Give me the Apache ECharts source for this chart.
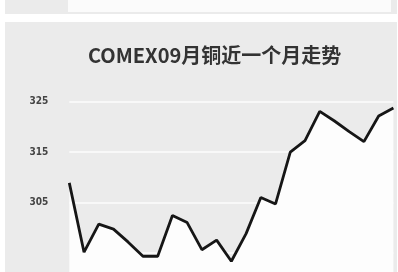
<!DOCTYPE html>
<html>
<head>
<meta charset="utf-8">
<script src="https://cdn.jsdelivr.net/npm/echarts@6/dist/echarts.min.js"></script>
<style>
html,body{margin:0;padding:0;background:#ffffff;}
#c{width:398px;height:272px;}
</style>
</head>
<body>
<div id="c"></div>
<script>
var titleText = 'COMEX09月铜近一个月走势';
var days = ['1','2','3','4','5','6','7','8','9','10','11','12','13','14','15','16','17','18','19','20','21','22','23'];
var prices = [308.9, 295.1, 300.7, 299.7, 297.1, 294.3, 294.3, 302.4, 301.0, 295.6, 297.5, 293.3, 298.8, 306.0, 304.7, 315.0, 317.3, 323.1, 321.2, 319.1, 317.1, 322.2, 323.8];
var yTicks = [305, 315, 325];

var chart = echarts.init(document.getElementById('c'), null, {renderer:'canvas'});
chart.setOption({
  backgroundColor: 'transparent',
  animation: false,
  graphic: [
    {type:'rect', z:-10, shape:{x:5, y:0, width:392, height:14}, style:{fill:'#ebebeb'}},
    {type:'rect', z:-9, shape:{x:68, y:0, width:323, height:12}, style:{fill:'#fbfbfb'}},
    {type:'rect', z:-10, shape:{x:5, y:22, width:392, height:250}, style:{fill:'#ebebeb'}}
  ],
  title: {
    text: titleText,
    left: 83,
    top: 40,
    textStyle: {fontFamily:'Noto Sans CJK SC', fontSize:20, fontWeight:'bold', color:'#333333'}
  },
  grid: {left:69.3, width:324.1, top:76.75, height:226.25, outerBoundsMode:'none', containLabel:false},
  xAxis: {
    type:'category', data: days, boundaryGap:false,
    axisLine:{show:false}, axisTick:{show:false}, axisLabel:{show:false}, splitLine:{show:false}
  },
  yAxis: {
    type:'value', min:285, max:330, interval:10,
    axisLine:{show:false}, axisTick:{show:false},
    axisLabel:{
      margin:21, fontSize:10, fontWeight:'bold', color:'#444444', fontFamily:'DejaVu Sans Condensed',
      showMinLabel:false, showMaxLabel:false,
      formatter:function(v){ return yTicks.indexOf(v) >= 0 ? String(v) : ''; }
    },
    splitLine:{show:true, showMinLine:false, showMaxLine:false, lineStyle:{color:'#f8f8f8', width:2}}
  },
  series: [{
    type:'line', data: prices, symbol:'none', smooth:false,
    lineStyle:{color:'#161616', width:2.8},
    areaStyle:{color:'#fdfdfd', opacity:1, origin:'start'}
  }]
});
</script>
</body>
</html>
